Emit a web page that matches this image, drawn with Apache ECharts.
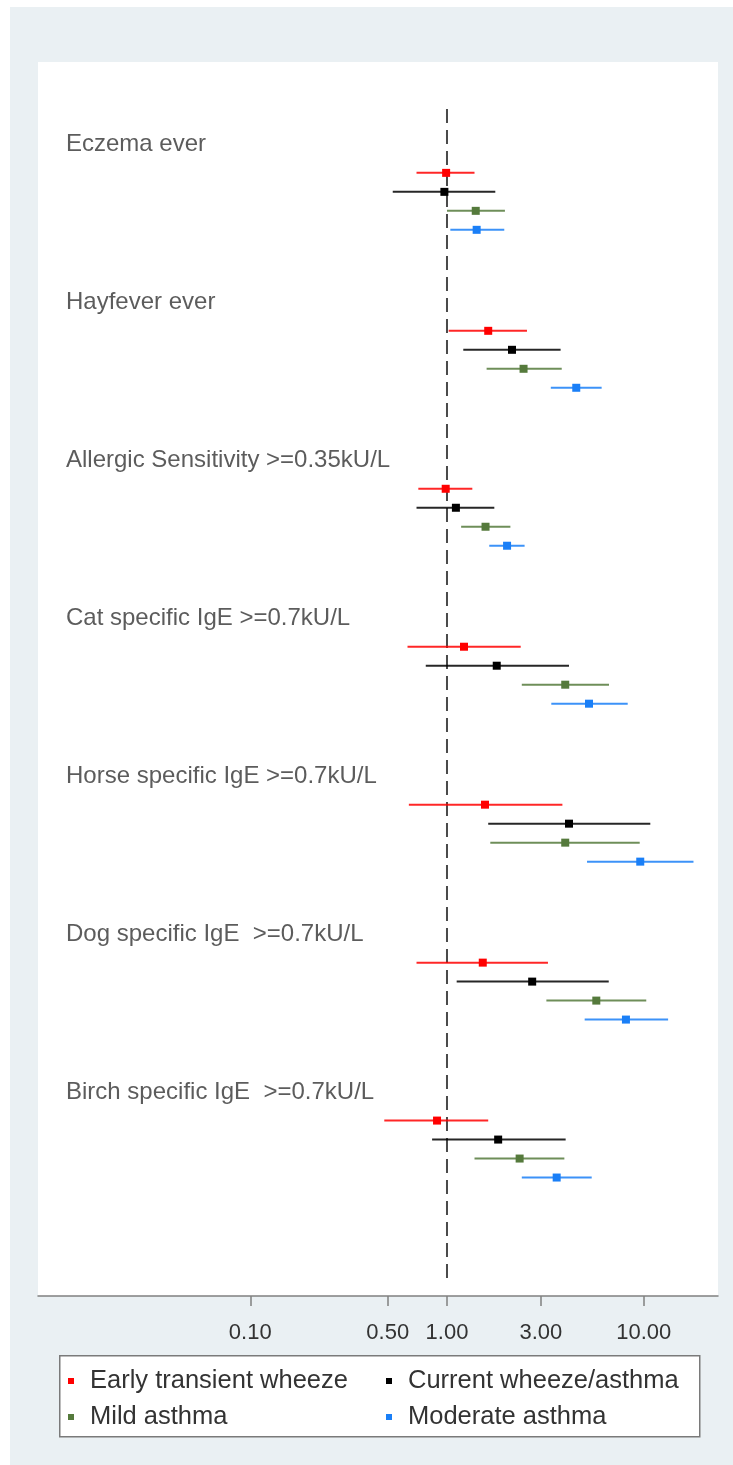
<!DOCTYPE html>
<html>
<head>
<meta charset="utf-8">
<script src="https://cdn.jsdelivr.net/npm/echarts@6/dist/echarts.min.js"></script>
<style>
html,body{margin:0;padding:0;background:#ffffff;}
#chart{width:733px;height:1465px;}
</style>
</head>
<body>
<div id="chart"></div>
<script>
// ---- data ----
const outcomes = [
  'Eczema ever',
  'Hayfever ever',
  'Allergic Sensitivity >=0.35kU/L',
  'Cat specific IgE >=0.7kU/L',
  'Horse specific IgE >=0.7kU/L',
  'Dog specific IgE  >=0.7kU/L',
  'Birch specific IgE  >=0.7kU/L'
];
const seriesNames = ['Early transient wheeze', 'Current wheeze/asthma', 'Mild asthma', 'Moderate asthma'];
const earlyEst  = [0.99, 1.62, 0.985, 1.22, 1.56, 1.52, 0.89];
const earlyLo   = [0.70, 1.02, 0.715, 0.63, 0.64, 0.70, 0.48];
const earlyHi   = [1.38, 2.55, 1.345, 2.37, 3.86, 3.26, 1.62];
const currentEst = [0.97, 2.14, 1.11, 1.79, 4.17, 2.71, 1.82];
const currentLo  = [0.53, 1.21, 0.70, 0.78, 1.62, 1.12, 0.84];
const currentHi  = [1.76, 3.78, 1.74, 4.17, 10.8, 6.64, 4.01];
const mildEst = [1.40, 2.45, 1.57, 3.99, 3.99, 5.74, 2.34];
const mildLo  = [1.00, 1.59, 1.18, 2.40, 1.66, 3.20, 1.38];
const mildHi  = [1.97, 3.83, 2.10, 6.66, 9.54, 10.3, 3.95];
const moderateEst = [1.415, 4.54, 2.02, 5.27, 9.60, 8.12, 3.61];
const moderateLo  = [1.04, 3.37, 1.64, 3.39, 5.15, 5.01, 2.40];
const moderateHi  = [1.955, 6.11, 2.48, 8.29, 17.9, 13.3, 5.44];
const xTicks = [0.1, 0.5, 1, 3, 10];
const refValue = 1;

// ---- layout of rows (structure, not values) ----
const groupStep = 8.32;     // rows between outcome groups
const labelOffset = -1.48;  // outcome label above first estimate row
const yMin = -5.84, yMax = 59.16;
const xMin = 0.00834, xMax = 23.85;
const refLineFrom = -3.37, refLineTo = 58.3;

const colors = ['#ff0000', '#000000', '#557a3c', '#1a7ff7'];
const est = [earlyEst, currentEst, mildEst, moderateEst];
const lo = [earlyLo, currentLo, mildLo, moderateLo];
const hi = [earlyHi, currentHi, mildHi, moderateHi];

const textColor = '#333333';
const fontFamily = '"Liberation Sans", Arial, sans-serif';

const chart = echarts.init(document.getElementById('chart'), null, {renderer: 'canvas'});

const series = seriesNames.map((name, s) => ({
  name: name,
  type: 'custom',
  coordinateSystem: 'cartesian2d',
  itemStyle: {color: colors[s]},
  data: outcomes.map((o, g) => [est[s][g], lo[s][g], hi[s][g], g * groupStep + s]),
  renderItem: function (params, api) {
    const y = api.value(3);
    const c = api.coord([api.value(0), y]);
    const l = api.coord([api.value(1), y]);
    const h = api.coord([api.value(2), y]);
    const col = colors[s];
    return {
      type: 'group',
      children: [
        {type: 'line', shape: {x1: l[0], y1: l[1], x2: h[0], y2: h[1]},
         style: {stroke: col, lineWidth: 2, opacity: 0.85}},
        {type: 'rect', shape: {x: c[0] - 4, y: c[1] - 4, width: 8, height: 8},
         style: {fill: col}}
      ]
    };
  },
  z: 3
}));

// outcome labels
series.push({
  name: 'labels',
  type: 'scatter',
  symbolSize: 0,
  silent: true,
  data: outcomes.map((o, g) => ({value: [xMin, g * groupStep + labelOffset], name: o})),
  label: {
    show: true,
    position: 'right',
    distance: 28,
    formatter: p => p.name,
    color: textColor,
    fontSize: 24,
    fontFamily: fontFamily
  }
});

// reference line at 1
series.push({
  name: 'ref',
  type: 'line',
  silent: true,
  symbol: 'none',
  data: [[refValue, refLineFrom], [refValue, refLineTo]],
  lineStyle: {color: '#4a4a4a', width: 2, type: [14, 7]},
  z: 1
});

const option = {
  animation: false,
  backgroundColor: '#ffffff',
  graphic: [
    {type: 'rect', left: 10, top: 7, shape: {width: 723, height: 1458}, style: {fill: '#eaf0f3'}, z: -10},
    {type: 'rect', left: 38, top: 62, shape: {width: 680, height: 1234}, style: {fill: '#ffffff'}, z: -9},
    {type: 'rect', left: 59, top: 1355, shape: {width: 640, height: 81}, style: {fill: '#ffffff', stroke: '#7a7a7a', lineWidth: 1.5}, z: -8}
  ],
  grid: {left: 38, right: 15, top: 62, bottom: 169, containLabel: false},
  xAxis: {
    type: 'log',
    logBase: 10,
    min: xMin,
    max: xMax,
    axisLine: {show: true, onZero: false, lineStyle: {color: '#808080', width: 1.5}},
    axisTick: {show: true, customValues: xTicks, length: 10, lineStyle: {color: '#808080', width: 1.5}},
    minorTick: {show: false},
    splitLine: {show: false},
    axisLabel: {
      customValues: xTicks,
      formatter: v => Number(v).toFixed(2),
      color: textColor,
      fontSize: 22,
      fontFamily: fontFamily,
      margin: 26
    }
  },
  yAxis: {
    type: 'value',
    inverse: true,
    min: yMin,
    max: yMax,
    show: false
  },
  legend: [
    {
      data: [seriesNames[0], seriesNames[2]],
      orient: 'vertical',
      left: 68, top: 1368, padding: 0,
      icon: 'rect', itemWidth: 6, itemHeight: 6, itemGap: 10,
      textStyle: {color: textColor, fontSize: 25.5, fontFamily: fontFamily, lineHeight: 25, padding: [0, 0, 0, 11]}
    },
    {
      data: [seriesNames[1], seriesNames[3]],
      orient: 'vertical',
      left: 386, top: 1368, padding: 0,
      icon: 'rect', itemWidth: 6, itemHeight: 6, itemGap: 10,
      textStyle: {color: textColor, fontSize: 25.5, fontFamily: fontFamily, lineHeight: 25, padding: [0, 0, 0, 11]}
    }
  ],
  series: series
};
chart.setOption(option);
</script>
</body>
</html>
